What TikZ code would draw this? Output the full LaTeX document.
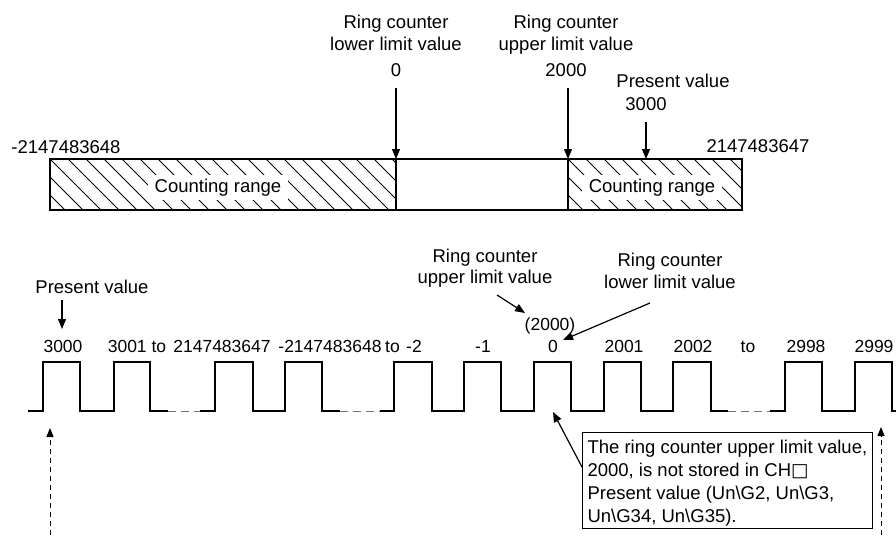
\documentclass[tikz,border=0pt]{standalone}
\usepackage{fontspec}
\setmainfont{Liberation Sans}
\newfontfamily\dejavu{DejaVu Sans}
\usetikzlibrary{arrows.meta}
\begin{document}
\begin{tikzpicture}[x=1pt,y=-1pt,
  lbl/.style={font=\fontsize{18.5}{22.5}\selectfont, inner sep=0pt, anchor=base},
  plbl/.style={lbl, font=\fontsize{17.5}{21}\selectfont},
  ln/.style={line width=1.1pt, line join=miter},
  arr/.style={line width=1.2pt, -{Triangle[length=10pt,width=8pt]}},
  darr/.style={line width=1pt, dash pattern=on 5pt off 4pt, -{Triangle[length=9pt,width=7pt]}},
  gapline/.style={line width=1pt, black!55, dash pattern=on 8pt off 5pt},
  hatch/.style={line width=0.9pt},
  cr/.style={lbl, fill=white, inner xsep=7pt, inner ysep=4pt}
]
\useasboundingbox (0,0) rectangle (896,535);

% ---------- top bar ----------
\begin{scope}
  \clip (50,159) rectangle (396,210);
  \foreach \x in {-4,14,...,396} \draw[hatch] (\x,159) -- ++(51,51);
\end{scope}
\begin{scope}
  \clip (568,159) rectangle (742,210);
  \foreach \x in {514,532,...,742} \draw[hatch] (\x,159) -- ++(51,51);
\end{scope}
\draw[ln] (50,159) rectangle (742,210);
\draw[ln] (396,159) -- (396,210);
\draw[ln] (568,159) -- (568,210);

\node[cr] (crL) at (218,192) {Counting range};
\node[cr] (crR) at (652,192) {Counting range};

\node[lbl] (minv) at (66,153) {-2147483648};
\node[lbl] (maxv) at (758,152) {2147483647};

\node[lbl] (ll1) at (396,29) {Ring counter};
\node[lbl] (ll2) at (396,51) {lower limit value};
\node[lbl] (ll3) at (396,77) {0};
\node[lbl] (ul1) at (566,29) {Ring counter};
\node[lbl] (ul2) at (566,51) {upper limit value};
\node[lbl] (ul3) at (566,77) {2000};
\node[lbl] (pv1) at (673,87) {Present value};
\node[lbl] (pv2) at (646,110) {3000};

\coordinate (llS) at (396,88);  \coordinate (llE) at (396,159);
\coordinate (ulS) at (568,88);  \coordinate (ulE) at (568,159);
\coordinate (pvS) at (646,122); \coordinate (pvE) at (646,159);
\draw[arr] (llS) -- (llE);
\draw[arr] (ulS) -- (ulE);
\draw[arr] (pvS) -- (pvE);

% ---------- pulse train ----------
\draw[ln] (28,411) -- (43,411) -- (43,362) -- (80,362) -- (80,411) -- (114,411)
  -- (114,362) -- (150,362) -- (150,411) -- (168,411);
\draw[gapline] (168,411) -- (200,411);
\draw[ln] (200,411) -- (215,411) -- (215,362) -- (253,362) -- (253,411) -- (285,411)
  -- (285,362) -- (322,362) -- (322,411) -- (340,411);
\draw[gapline] (340,411) -- (380,411);
\draw[ln] (380,411) -- (394,411) -- (394,362) -- (432,362) -- (432,411) -- (464,411)
  -- (464,362) -- (501,362) -- (501,411) -- (534,411) -- (534,362) -- (571,362)
  -- (571,411) -- (604,411) -- (604,362) -- (641,362) -- (641,411) -- (673,411)
  -- (673,362) -- (711,362) -- (711,411) -- (728,411);
\draw[gapline] (728,411) -- (770,411);
\draw[ln] (770,411) -- (785,411) -- (785,362) -- (822,362) -- (822,411) -- (855,411)
  -- (855,362) -- (892,362) -- (892,411) -- (896,411);

% pulse labels
\node[plbl] (p1) at (63,352) {3000};
\node[plbl] (p2) at (137,352) {3001 to};
\node[plbl] (p3) at (222,352) {2147483647};
\node[plbl] (p4) at (330,352) {-2147483648};
\node[plbl] (p4b) at (392.5,352) {to};
\node[plbl] (p5) at (414,352) {-2};
\node[plbl] (p6) at (483,352) {-1};
\node[plbl] (p7) at (553,352) {0};
\node[plbl] (p8) at (624,352) {2001};
\node[plbl] (p9) at (693,352) {2002};
\node[plbl] (p10) at (748,352) {to};
\node[plbl] (p11) at (806,352) {2998};
\node[plbl] (p12) at (874,352) {2999};

\node[lbl] (bpv) at (92,293) {Present value};
\coordinate (bpvS) at (62,300); \coordinate (bpvE) at (62,329);
\draw[arr] (bpvS) -- (bpvE);

\node[lbl] (bu1) at (485,262) {Ring counter};
\node[lbl] (bu2) at (485,283) {upper limit value};
\node[plbl] (b2000) at (550,330) {(2000)};
\coordinate (buS) at (497,295); \coordinate (buE) at (525,313);
\draw[arr] (buS) -- (buE);

\node[lbl] (bl1) at (670,266) {Ring counter};
\node[lbl] (bl2) at (670,288) {lower limit value};
\coordinate (blS) at (650,303); \coordinate (blE) at (563,340);
\draw[arr] (blS) -- (blE);

% ---------- note ----------
\node[draw, line width=1.1pt, anchor=north west, inner xsep=5pt, inner ysep=0pt,
      align=left, font=\fontsize{18.5}{23}\selectfont] (note) at (582,432)
  {\rule{0pt}{21pt}The ring counter upper limit value,\\
   2000, is not stored in CH{\dejavu □}\\
   Present value (Un\textbackslash G2, Un\textbackslash G3,\\
   Un\textbackslash G34, Un\textbackslash G35).\rule[-6pt]{0pt}{6pt}};
\coordinate (noteS) at (582,467); \coordinate (noteE) at (553,412);
\draw[arr] (noteS) -- (noteE);

% dashed arrows
\coordinate (dlS) at (50,535); \coordinate (dlE) at (50,428);
\coordinate (drS) at (881,535); \coordinate (drE) at (881,427);
\draw[darr] (dlS) -- (dlE);
\draw[darr] (drS) -- (drE);
\end{tikzpicture}
\end{document}
